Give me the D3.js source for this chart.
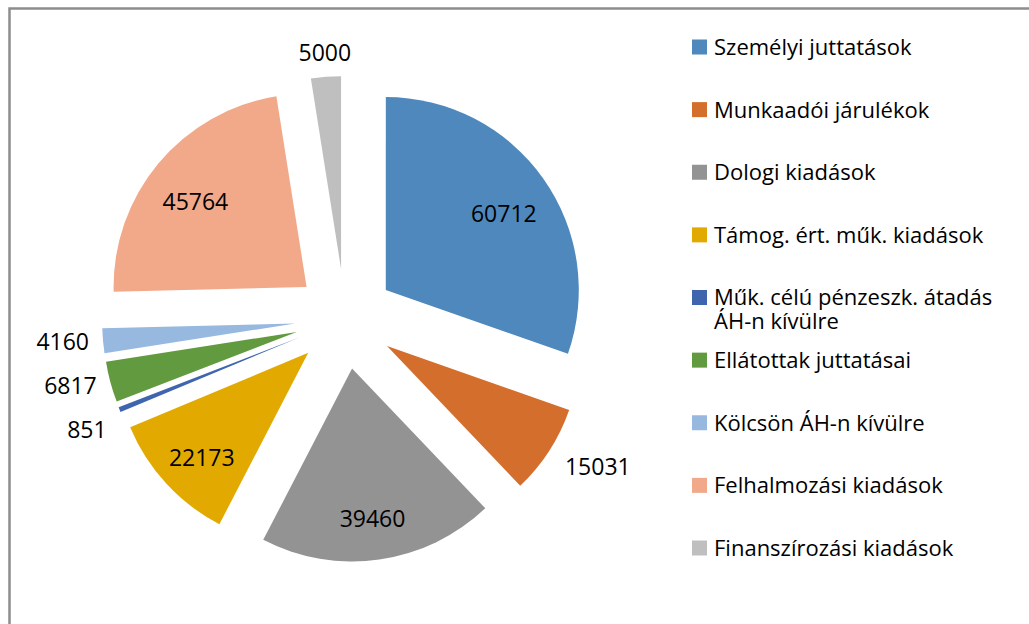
<!DOCTYPE html>
<html>
<head>
<meta charset="utf-8">
<script src="https://cdn.jsdelivr.net/npm/d3@7"></script>
<style>
  body { margin: 0; background: #fff; }
  text { font-family: "Open Sans", "Noto Sans", sans-serif; fill: #000; }
</style>
</head>
<body>
<svg width="1029" height="624"></svg>
<script>
// Kiadások megoszlása
var categories = [
  "Személyi juttatások",
  "Munkaadói járulékok",
  "Dologi kiadások",
  "Támog. ért. műk. kiadások",
  "Műk. célú pénzeszk. átadás\nÁH-n kívülre",
  "Ellátottak juttatásai",
  "Kölcsön ÁH-n kívülre",
  "Felhalmozási kiadások",
  "Finanszírozási kiadások"
];
var values = [60712, 15031, 39460, 22173, 851, 6817, 4160, 45764, 5000];
var colors = ["#4e88bd", "#d36e2c", "#939393", "#e2aa00", "#3e65ae",
              "#629a3f", "#97b9e0", "#f1a98a", "#bfbfbf"];

var svgWidth = 1029, svgHeight = 624;
var cx = 345, cy = 319, radius = 193, explode = 50;

var svg = d3.select("svg");

// outer frame (only top and left show inside the picture)
svg.append("rect")
  .attr("x", 9.5).attr("y", 8.5)
  .attr("width", 1200).attr("height", 800)
  .attr("fill", "none")
  .attr("stroke", "#8d8d8d")
  .attr("stroke-width", 2.5);

var pie = d3.pie().sort(null).value(function(d) { return d; });
var arcs = pie(values);
var total = d3.sum(values);

var arc = d3.arc().innerRadius(0).outerRadius(radius);

function mid(d) { return (d.startAngle + d.endAngle) / 2; }

var g = svg.append("g")
  .attr("transform", "translate(" + cx + "," + cy + ")");

// each slice pushed out along its middle angle
g.selectAll("path")
  .data(arcs)
  .enter()
  .append("path")
  .attr("d", arc)
  .attr("fill", function(d, i) { return colors[i]; })
  .attr("transform", function(d) {
    var a = mid(d);
    return "translate(" + (Math.sin(a) * explode) + "," + (-Math.cos(a) * explode) + ")";
  });

// labels: big slices inside, small ones outside
var labels = arcs.map(function(d) {
  var a = mid(d);
  var ox = Math.sin(a) * explode, oy = -Math.cos(a) * explode;
  var inside = d.value / total >= 0.09;
  var r = inside ? radius * 0.75 : radius + 14;
  var x = ox + Math.sin(a) * r, y = oy - Math.cos(a) * r;
  var anchor = "middle";
  if (inside) {
    y += 7;
  } else {
    if (Math.sin(a) > 0.3) { anchor = "start"; y += 8; x += 4; }
    else if (Math.sin(a) < -0.3) anchor = "end";
    else y += (Math.cos(a) > 0 ? -10 : 12);
  }
  return {value: d.value, x: x, y: y, anchor: anchor, inside: inside};
});

// push overlapping outside labels on the left apart
var left = labels.filter(function(l) { return !l.inside && l.anchor === "end"; })
  .sort(function(a, b) { return a.y - b.y; });
for (var k = 1; k < left.length; k++) {
  if (left[k].y - left[k - 1].y < 44) left[k].y = left[k - 1].y + 44;
}

g.selectAll(".label")
  .data(labels)
  .enter()
  .append("text")
  .attr("class", "label")
  .attr("x", function(d) { return d.x; })
  .attr("y", function(d) { return d.y; })
  .attr("dy", "0.36em")
  .attr("text-anchor", function(d) { return d.anchor; })
  .style("font-size", "23px")
  .text(function(d) { return d.value; });

// legend
var legendY = d3.scalePoint()
  .domain(d3.range(categories.length))
  .range([47, 548]);

var legend = svg.append("g")
  .selectAll("g")
  .data(categories)
  .enter()
  .append("g")
  .attr("transform", function(d, i) { return "translate(692," + legendY(i) + ")"; });

legend.append("rect")
  .attr("x", 0).attr("y", -7.5)
  .attr("width", 15).attr("height", 15)
  .attr("fill", function(d, i) { return colors[i]; });

legend.append("text")
  .attr("x", 22)
  .attr("dy", "0.36em")
  .style("font-size", "22px")
  .selectAll("tspan")
  .data(function(d) { return d.split("\n"); })
  .enter()
  .append("tspan")
  .attr("x", 22)
  .attr("y", function(d, i) { return i * 31; })
  .text(function(d) { return d; });
</script>
</body>
</html>
